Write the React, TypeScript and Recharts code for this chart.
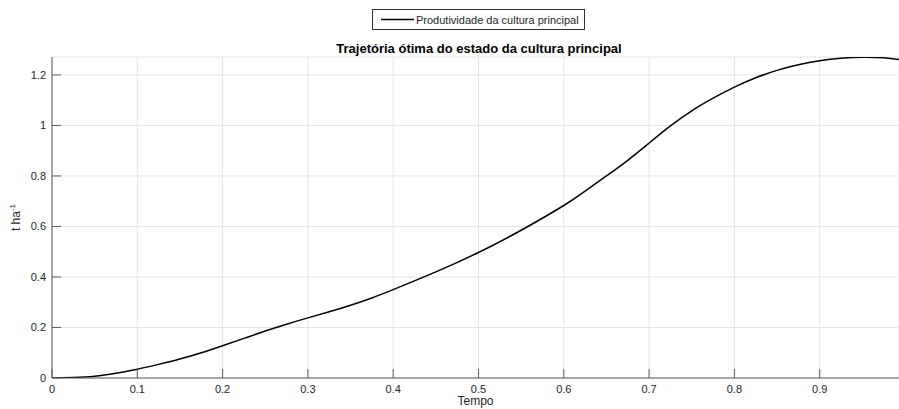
import React from 'react';
import { LineChart, Line, XAxis, YAxis, CartesianGrid } from 'recharts';

// Time (normalized) and main-crop yield trajectory, t/ha
const tempo = [
  0, 0.025, 0.05, 0.075, 0.1, 0.125, 0.15, 0.175, 0.2, 0.225, 0.25, 0.275, 0.3, 0.325, 0.35, 0.375, 0.4,
  0.45, 0.5, 0.55, 0.6, 0.625, 0.65, 0.675, 0.7, 0.725, 0.75, 0.775, 0.8, 0.825, 0.85, 0.875, 0.9, 0.925,
  0.95, 0.975, 0.993,
];
const produtividade = [
  0, 0.002, 0.007, 0.019, 0.035, 0.054, 0.075, 0.1, 0.128, 0.157, 0.186, 0.213, 0.238, 0.262, 0.288, 0.317, 0.35,
  0.42, 0.497, 0.585, 0.683, 0.74, 0.8, 0.862, 0.93, 0.998, 1.058, 1.108, 1.152, 1.189, 1.218, 1.24, 1.256, 1.266,
  1.27, 1.268, 1.261,
];

const xTicks = [0, 0.1, 0.2, 0.3, 0.4, 0.5, 0.6, 0.7, 0.8, 0.9];
const yTicks = [0, 0.2, 0.4, 0.6, 0.8, 1, 1.2];

const seriesName = 'Produtividade da cultura principal';
const chartTitle = 'Trajetória ótima do estado da cultura principal';
const xLabel = 'Tempo';

const data = tempo.map((t, i) => ({ t, y: produtividade[i] }));

const FONT = '"Liberation Sans", Arial, Helvetica, sans-serif';
const AXIS = '#5a5a5a';
const TEXT = '#262626';
const GRID = '#e4e4e4';
const X_MAX = 0.993;
const Y_MAX = 1.271;

const tickStyle = { fill: TEXT, fontSize: 11, fontFamily: FONT };

export default function App() {
  return (
    <div style={{ position: 'absolute', left: 0, top: 0, width: 899, height: 409, background: '#fff', fontFamily: FONT }}>
      {/* legend */}
      <div
        style={{
          position: 'absolute', left: 372, top: 9, width: 213, height: 21,
          border: '1px solid #333', background: '#fff', boxSizing: 'border-box', zIndex: 2,
        }}
      >
        <svg width={211} height={19} style={{ position: 'absolute', left: 0, top: 0 }}>
          <line x1={8} x2={41} y1={9.5} y2={9.5} stroke="#000" strokeWidth={1.5} />
          <text x={43} y={13.5} fontSize={11} fill={TEXT} fontFamily={FONT}>{seriesName}</text>
        </svg>
      </div>
      {/* title */}
      <div
        style={{
          position: 'absolute', left: 229, width: 500, top: 41, textAlign: 'center',
          fontSize: 13, fontWeight: 'bold', color: '#000', lineHeight: '16px', zIndex: 2,
        }}
      >
        {chartTitle}
      </div>
      <LineChart width={899} height={409} data={data} margin={{ top: 57, right: 0, bottom: 0, left: 0 }}>
        <CartesianGrid stroke={GRID} strokeWidth={1} />
        <XAxis
          dataKey="t"
          type="number"
          domain={[0, X_MAX]}
          allowDataOverflow
          ticks={xTicks}
          interval={0}
          tickSize={-9}
          tickMargin={16}
          height={31}
          stroke={AXIS}
          tick={tickStyle}
          tickFormatter={(v: number) => String(v)}
          label={{
            content: (p: any) => {
              const vb = p.viewBox || {};
              return (
                <text x={vb.x + vb.width / 2} y={vb.y + 27} textAnchor="middle" fontSize={12} fill={TEXT} fontFamily={FONT}>
                  {xLabel}
                </text>
              );
            },
          }}
        />
        <XAxis
          xAxisId="top"
          dataKey="t"
          orientation="top"
          type="number"
          domain={[0, X_MAX]}
          allowDataOverflow
          ticks={xTicks}
          interval={0}
          height={0}
          tickSize={-9}
          tick={false}
          stroke={AXIS}
        />
        <YAxis
          type="number"
          domain={[0, Y_MAX]}
          allowDataOverflow
          ticks={yTicks}
          interval={0}
          width={52}
          tickSize={-9}
          tickMargin={15}
          stroke={AXIS}
          tick={tickStyle}
          tickFormatter={(v: number) => String(v)}
          label={{
            content: () => (
              <text
                x={20}
                y={217.5}
                transform="rotate(-90, 20, 217.5)"
                textAnchor="middle"
                fontSize={12}
                fill={TEXT}
                fontFamily={FONT}
              >
                t ha<tspan dy={-5} fontSize={8}>-1</tspan>
              </text>
            ),
          }}
        />
        <YAxis
          yAxisId="right"
          dataKey="y"
          orientation="right"
          type="number"
          domain={[0, Y_MAX]}
          allowDataOverflow
          ticks={yTicks}
          interval={0}
          width={0}
          tickSize={-9}
          tick={false}
          axisLine={false}
          stroke={AXIS}
        />
        <Line
          dataKey="y"
          type="natural"
          stroke="#000"
          strokeWidth={1.5}
          dot={false}
          activeDot={false}
          isAnimationActive={false}
          name={seriesName}
        />
      </LineChart>
    </div>
  );
}
